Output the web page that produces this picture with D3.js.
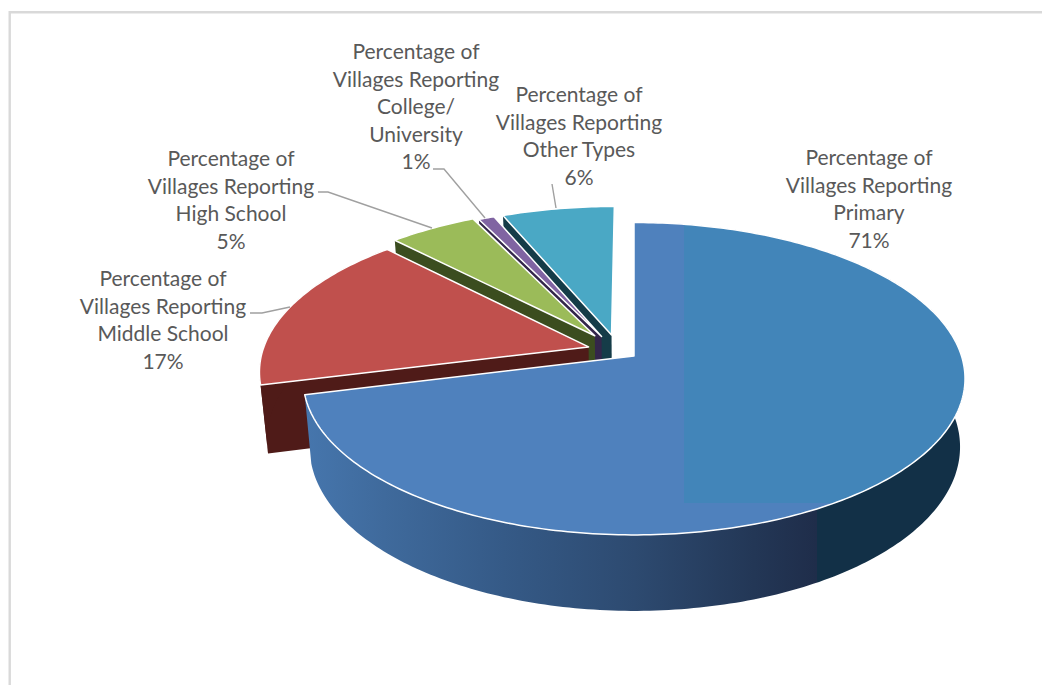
<!DOCTYPE html>
<html><head><meta charset="utf-8">
<script src="https://cdn.jsdelivr.net/npm/d3@7/dist/d3.min.js"></script>
<style>html,body{margin:0;padding:0;background:#fff}svg{display:block}text{font-family:Lato,"Open Sans",sans-serif;font-size:21px;fill:#595959}</style>
</head><body><svg id="c" width="1042" height="685"></svg>
<script>
const categories = ["Primary","Middle School","High School","College/University","Other Types"];
const values = [71.0, 16.6, 5.0, 0.9, 6.4];
const shownPercent = ["71%","17%","5%","1%","6%"];
const labelLines = [
  ["Percentage of","Villages Reporting","Primary"],
  ["Percentage of","Villages Reporting","Middle School"],
  ["Percentage of","Villages Reporting","High School"],
  ["Percentage of","Villages Reporting","College/","University"],
  ["Percentage of","Villages Reporting","Other Types"]
];
const topColors = ["#4f81bd","#c0504d","#9bbb59","#8064a2","#4aa8c5"];
const sideColors = ["url(#sideGrad)","#4f1b18","#3b4d1f","#33264a","#153c48"];
const explodeOffsets = [[0,0],[-.14,.06],[-.122,.135],[-.101,.13],[-.07,.14]];
const labelAnchors = [[869,158],[163,279],[231,159],[416,52],[579,95]];
const leaders = [
  null,
  [[250,313],[262,313],[290,307]],
  [[318,192],[328,192],[432,228]],
  [[433,169],[444,169],[485,218]],
  [[552,184],[556,208]]
];
const svg = d3.select("#c");
const defs = svg.append("defs");
const g = defs.append("linearGradient").attr("id","sideGrad").attr("gradientUnits","userSpaceOnUse")
  .attr("x1",305).attr("x2",965).attr("y1",0).attr("y2",0);
[[0,"#4676ad"],[.12,"#3f6a9c"],[.3,"#355a87"],[.5,"#2d4a70"],[.68,"#233756"],[.775,"#1f2d4a"],[.776,"#123047"],[1,"#123047"]]
  .forEach(([o,c])=>g.append("stop").attr("offset",o).attr("stop-color",c));
// frame
svg.append("path").attr("d","M9.7,685V12.2H1042").attr("fill","none").attr("stroke","#d9d9d9").attr("stroke-width",2.4);

const cx=634, cy=356, R=327.5, Ry=152.9, k=.1453;
const project=(u,v)=>{const s=1/(1+k*v);return [cx+R*u*s, cy-Ry*v*s];};
const lower=([x,y])=>[cx+(x-cx)*(x>cx?.985:.98), 611+1.05*(y-535)];
const line=d3.line();
const arcs=d3.pie().sort(null)(values);
const pts=(d,i)=>{
  const [ou,ov]=explodeOffsets[i];
  const n=Math.max(8,Math.ceil((d.endAngle-d.startAngle)*60));
  return d3.range(n+1).map(j=>{
    const a=d.startAngle+(d.endAngle-d.startAngle)*j/n;
    return project(ou+Math.sin(a),ov+Math.cos(a));
  });
};
const order=[4,3,2,1,0];
order.forEach(i=>{
  const d=arcs[i], rim=pts(d,i), apex=project(...explodeOffsets[i]);
  const gs=svg.append("g").attr("class","slice").attr("data-cat",categories[i]);
  // radial side at the start edge
  gs.append("path").attr("fill",i===0?"#4676ad":sideColors[i])
    .attr("d",line([apex,rim[0],lower(rim[0]),lower(apex)])+"Z");
  // outer rim side: only the two front slices show one
  if(i<2) gs.append("path").attr("fill",sideColors[i])
    .attr("d",line(rim.concat(rim.slice().reverse().map(lower)))+"Z");
  // top face
  const top=line([apex,...rim])+"Z";
  gs.append("path").attr("d",top).attr("fill",topColors[i]);
  if(i===0){
    defs.append("clipPath").attr("id","topClip").append("path").attr("d",top);
    gs.append("rect").attr("x",684).attr("y",200).attr("width",300).attr("height",303)
      .attr("fill","#4285b9").attr("clip-path","url(#topClip)");
  }
  gs.append("path").attr("d",top).attr("fill","none").attr("stroke","#fff").attr("stroke-width",1.5).attr("stroke-linejoin","round");
});
// leaders
leaders.forEach(l=>{ if(l) svg.append("path").attr("d",line(l)).attr("fill","none").attr("stroke","#a0a0a0").attr("stroke-width",1.4); });
// labels
labelLines.forEach((lines,i)=>{
  const t=svg.append("text").attr("text-anchor","middle");
  lines.concat(shownPercent[i]).forEach((s,j)=>{
    t.append("tspan").attr("x",labelAnchors[i][0]).attr("y",labelAnchors[i][1]+7+j*27.5).text(s);
  });
});
</script></body></html>
